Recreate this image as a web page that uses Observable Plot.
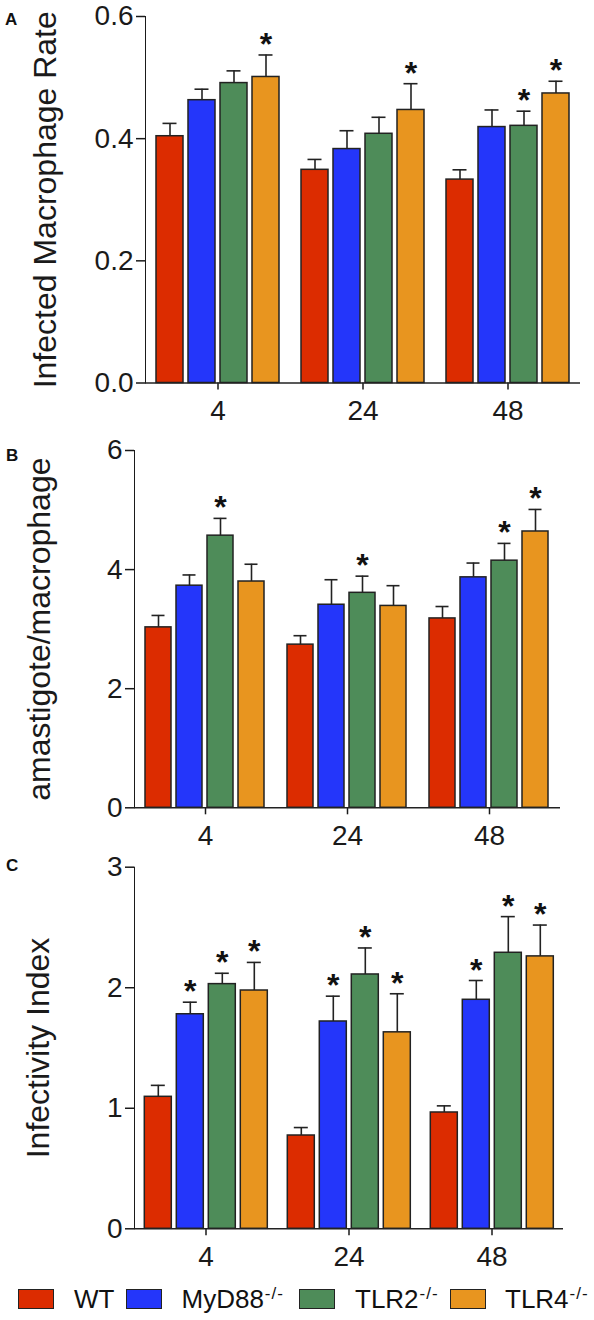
<!DOCTYPE html>
<html>
<head>
<meta charset="utf-8">
<script src="https://cdn.jsdelivr.net/npm/d3@7"></script>
<script src="https://cdn.jsdelivr.net/npm/@observablehq/plot@0.6"></script>
<style>
  body { margin: 0; background: #fff; font-family: "Liberation Sans", Arial, sans-serif; }
  #wrap { position: relative; width: 594px; height: 1320px; overflow: hidden; }
  .panel { position: absolute; left: 0; }
  .letter { position: absolute; font-weight: bold; font-size: 17px; line-height: 17px; color: #111; }
  svg [aria-label="y-axis label"], svg [aria-label="y-axis label"] text { font-size: 32px !important; }
  svg [aria-label="y-axis tick"], svg [aria-label="fx-axis tick"] { stroke-width: 1.5; }
  .sw { position: absolute; top: 1289px; width: 36px; height: 20px; box-sizing: border-box; border: 1.5px solid #222; }
  .lt { position: absolute; top: 1286px; font-size: 26px; line-height: 26px; color: #111; white-space: nowrap; }
  .lt span { font-size: 17px; position: relative; top: -9px; margin-left: 1px; letter-spacing: 1px; }
</style>
</head>
<body>
<div id="wrap"></div>
<script>
// ---------- data ----------
const times = ["4", "24", "48"];
const genotypes = ["WT", "MyD88", "TLR2", "TLR4"];
const legendLabels = ["WT", "MyD88", "TLR2", "TLR4"];
const legendSup = ["", "-/-", "-/-", "-/-"];
const colors = ["#DC2C00", "#2436FA", "#4E8C59", "#E8951F"];

// Panel A: infected macrophage rate (rows = time, cols = genotype)
const rateMean = [[0.404, 0.463, 0.491, 0.501], [0.349, 0.383, 0.408, 0.447], [0.333, 0.419, 0.421, 0.474]];
const rateSem  = [[0.021, 0.018, 0.020, 0.036], [0.017, 0.030, 0.027, 0.043], [0.016, 0.028, 0.024, 0.020]];
const rateSig  = [[0, 0, 0, 1], [0, 0, 0, 1], [0, 0, 1, 1]];
const rateTicks = [0, 0.2, 0.4, 0.6];

// Panel B: amastigote / macrophage
const amaMean = [[3.03, 3.73, 4.57, 3.80], [2.74, 3.41, 3.61, 3.39], [3.18, 3.87, 4.15, 4.64]];
const amaSem  = [[0.20, 0.18, 0.29, 0.29], [0.15, 0.42, 0.28, 0.34], [0.20, 0.24, 0.29, 0.37]];
const amaSig  = [[0, 0, 1, 0], [0, 0, 1, 0], [0, 0, 1, 1]];
const amaTicks = [0, 2, 4, 6];

// Panel C: infectivity index
const infMean = [[1.095, 1.78, 2.03, 1.977], [0.774, 1.72, 2.11, 1.63], [0.965, 1.90, 2.29, 2.26]];
const infSem  = [[0.095, 0.10, 0.09, 0.233], [0.066, 0.21, 0.22, 0.32], [0.055, 0.16, 0.30, 0.26]];
const infSig  = [[0, 1, 1, 1], [0, 1, 1, 1], [0, 1, 1, 1]];
const infTicks = [0, 1, 2, 3];

// ---------- helpers ----------
function rowsOf(mean, sem, sig) {
  const rows = [];
  times.forEach((t, i) => genotypes.forEach((g, j) => {
    rows.push({time: t, genotype: g, mean: mean[i][j], top: mean[i][j] + sem[i][j], sig: !!sig[i][j]});
  }));
  return rows;
}

function panel(cfg) {
  const rows = rowsOf(cfg.mean, cfg.sem, cfg.sig);
  const ink = "#222";
  return Plot.plot({
    width: 594,
    height: cfg.height,
    marginTop: cfg.mt, marginBottom: cfg.mb, marginLeft: cfg.ml, marginRight: cfg.mr,
    style: {fontFamily: "'Liberation Sans', Arial, sans-serif", fontSize: "28px", color: "#1a1a1a", background: "transparent", overflow: "visible"},
    fx: {domain: times, padding: 0, axis: "bottom", tickSize: 7, tickPadding: 10, label: null},
    x: {domain: genotypes, paddingInner: 0.16, paddingOuter: 0.31, axis: null},
    y: {domain: [cfg.ticks[0], cfg.ticks[cfg.ticks.length - 1]], ticks: cfg.ticks, tickFormat: cfg.fmt,
        tickSize: 9, tickPadding: 3, line: true, label: cfg.label, labelAnchor: "center", labelArrow: "none",
        labelOffset: cfg.labelOffset},
    color: {domain: genotypes, range: colors},
    marks: [
      Plot.barY(rows, {fx: "time", x: "genotype", y: "mean", fill: "genotype", stroke: ink, strokeWidth: 1.5}),
      Plot.ruleX(rows, {fx: "time", x: "genotype", y1: "mean", y2: "top", stroke: ink, strokeWidth: 1.6}),
      Plot.tickY(rows, {fx: "time", x: "genotype", y: "top", stroke: ink, strokeWidth: 1.6, insetLeft: 6.5, insetRight: 6.5}),
      Plot.text(rows.filter(d => d.sig), {fx: "time", x: "genotype", y: "top", text: () => "*", lineAnchor: "bottom",
        fontSize: 32, fontWeight: "bold", fill: "#111"}),
      Plot.ruleY([0], {stroke: ink, strokeWidth: 1.6})
    ]
  });
}

const wrap = document.getElementById("wrap");
function place(node, top) {
  node.classList.add("panel");
  node.style.top = top + "px";
  wrap.appendChild(node);
}

place(panel({mean: rateMean, sem: rateSem, sig: rateSig, ticks: rateTicks, fmt: d3.format(".1f"),
  label: "Infected Macrophage Rate", labelOffset: 112,
  height: 430, mt: 16, mb: 47.5, ml: 144, mr: 13}), 0);

place(panel({mean: amaMean, sem: amaSem, sig: amaSig, ticks: amaTicks, fmt: d3.format("d"),
  label: "amastigote/macrophage", labelOffset: 107,
  height: 420, mt: 20, mb: 42.7, ml: 133, mr: 34}), 430);

place(panel({mean: infMean, sem: infSem, sig: infSig, ticks: infTicks, fmt: d3.format("d"),
  label: "Infectivity Index", labelOffset: 108,
  height: 430, mt: 16.7, mb: 51.7, ml: 132.7, mr: 30}), 850);

// panel letters
[["A", 5, 11], ["B", 6, 447], ["C", 6, 857]].forEach(([t, x, y]) => {
  const d = document.createElement("div");
  d.className = "letter"; d.textContent = t;
  d.style.left = x + "px"; d.style.top = y + "px";
  wrap.appendChild(d);
});

// legend
const swLeft = [18, 125.5, 299, 450];
const txLeft = [74, 181.5, 355, 505];
genotypes.forEach((g, i) => {
  const sw = document.createElement("div");
  sw.className = "sw"; sw.style.left = swLeft[i] + "px"; sw.style.background = colors[i];
  wrap.appendChild(sw);
  const tx = document.createElement("div");
  tx.className = "lt"; tx.style.left = txLeft[i] + "px";
  tx.textContent = legendLabels[i];
  if (legendSup[i]) { const s = document.createElement("span"); s.textContent = legendSup[i]; tx.appendChild(s); }
  wrap.appendChild(tx);
});
</script>
</body>
</html>
